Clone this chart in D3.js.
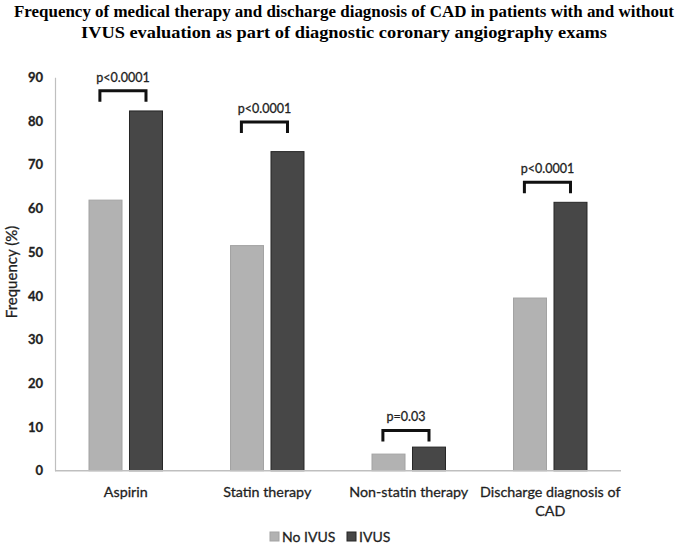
<!DOCTYPE html>
<html lang="en">
<head>
<meta charset="UTF-8">
<title>Frequency of medical therapy and discharge diagnosis of CAD</title>
<script src="https://d3js.org/d3.v7.min.js"></script>
<style>
    body { margin: 0; background: #fff; }
    .title { font-family: "Liberation Serif", "DejaVu Serif", serif; font-weight: bold; font-size: 16.5px; fill: #000; }
    .tick text, .cat, .ytitle, .legend text, .pval { font-family: Lato, "Open Sans", sans-serif; fill: #1f1f1f; stroke: #1f1f1f; stroke-width: 0.3px; }
</style>
</head>
<body>
<div id="chart"></div>
<script>
    // data
    const categories = ["Aspirin", "Statin therapy", "Non-statin therapy", "Discharge diagnosis of CAD"];
    const catLines = [["Aspirin"], ["Statin therapy"], ["Non-statin therapy"], ["Discharge diagnosis of", "CAD"]];
    const series = ["No IVUS", "IVUS"];
    const noIvus = [61.9, 51.5, 3.8, 39.5];
    const ivus = [82.3, 73.0, 5.4, 61.4];
    const pLabels = ["p<0.0001", "p<0.0001", "p=0.03", "p<0.0001"];
    const bracketLevel = [86.9, 79.8, 9.2, 66.0];
    const yTicks = [0, 10, 20, 30, 40, 50, 60, 70, 80, 90];

    const W = 688, H = 546;
    const colors = { "No IVUS": "#b2b2b2", "IVUS": "#474747" };
    const strokes = { "No IVUS": "#a3a3a3", "IVUS": "#262626" };

    const svg = d3.select("#chart").append("svg")
        .attr("width", W).attr("height", H);

    // title
    svg.append("text").attr("class", "title")
        .attr("x", 344).attr("y", 16.5).attr("text-anchor", "middle")
        .attr("textLength", 660).attr("lengthAdjust", "spacingAndGlyphs")
        .text("Frequency of medical therapy and discharge diagnosis of CAD in patients with and without");
    svg.append("text").attr("class", "title")
        .attr("x", 344).attr("y", 37.5).attr("text-anchor", "middle")
        .attr("textLength", 526).attr("lengthAdjust", "spacingAndGlyphs")
        .text("IVUS evaluation as part of diagnostic coronary angiography exams");

    const x = d3.scaleBand().domain(categories).range([55, 621]);
    const xs = d3.scaleBand().domain(series).range([0, x.bandwidth()])
        .paddingInner(0.185).paddingOuter(0.84);
    const y = d3.scaleLinear().domain([0, 90]).range([470.7, 77.3]);

    // y axis
    const yAxis = svg.append("g")
        .attr("transform", "translate(55,0)")
        .call(d3.axisLeft(y).tickValues(yTicks).tickSize(0).tickSizeOuter(0).tickPadding(12));
    yAxis.select(".domain").attr("stroke", "#bfbfbf").attr("stroke-width", 1.2);
    yAxis.selectAll(".tick text").attr("font-size", 13).attr("font-weight", "bold")
        .attr("fill", "#333").attr("stroke", "none");

    svg.append("text").attr("class", "ytitle")
        .attr("transform", "translate(17,272) rotate(-90)")
        .attr("text-anchor", "middle").attr("font-size", 15)
        .text("Frequency (%)");

    // bars
    const rows = categories.map((c, i) => ({ cat: c, vals: [noIvus[i], ivus[i]] }));
    const groups = svg.selectAll("g.grp").data(rows).enter().append("g")
        .attr("class", "grp")
        .attr("transform", d => `translate(${x(d.cat)},0)`);

    groups.selectAll("rect")
        .data(d => series.map((s, j) => ({ s, v: d.vals[j] })))
        .enter().append("rect")
        .attr("x", d => xs(d.s))
        .attr("y", d => y(d.v))
        .attr("width", xs.bandwidth())
        .attr("height", d => y(0) - y(d.v))
        .attr("fill", d => colors[d.s])
        .attr("stroke", d => strokes[d.s])
        .attr("stroke-width", 1);

    // x baseline
    svg.append("line")
        .attr("x1", x.range()[0]).attr("x2", x.range()[1])
        .attr("y1", y(0)).attr("y2", y(0))
        .attr("stroke", "#bfbfbf").attr("stroke-width", 1.5);

    // category labels
    categories.forEach((c, i) => {
        const t = svg.append("text").attr("class", "cat")
            .attr("x", x(c) + x.bandwidth() / 2)
            .attr("y", 497).attr("text-anchor", "middle")
            .attr("font-size", 14.3);
        catLines[i].forEach((ln, k) => {
            t.append("tspan").attr("x", x(c) + x.bandwidth() / 2)
                .attr("dy", k === 0 ? 0 : 19).text(ln);
        });
    });

    // significance brackets
    categories.forEach((c, i) => {
        const x0 = x(c) + xs(series[0]) + xs.bandwidth() * 0.33;
        const x1 = x(c) + xs(series[1]) + xs.bandwidth() * 0.5;
        const yl = y(bracketLevel[i]);
        svg.append("path")
            .attr("d", `M${x0},${yl + 11}V${yl}H${x1}V${yl + 11}`)
            .attr("fill", "none").attr("stroke", "#111").attr("stroke-width", 3);
        svg.append("text").attr("class", "pval")
            .attr("x", (x0 + x1) / 2).attr("y", yl - 9)
            .attr("text-anchor", "middle").attr("font-size", 12.5)
            .text(pLabels[i]);
    });

    // legend
    const legend = svg.append("g").attr("class", "legend");
    const lx = [270, 347];
    series.forEach((s, i) => {
        legend.append("rect")
            .attr("x", lx[i]).attr("y", 532).attr("width", 9).attr("height", 9)
            .attr("fill", colors[s]).attr("stroke", strokes[s]);
        legend.append("text")
            .attr("x", lx[i] + 12).attr("y", 541.5)
            .attr("font-size", 14).text(s);
    });
</script>
</body>
</html>
